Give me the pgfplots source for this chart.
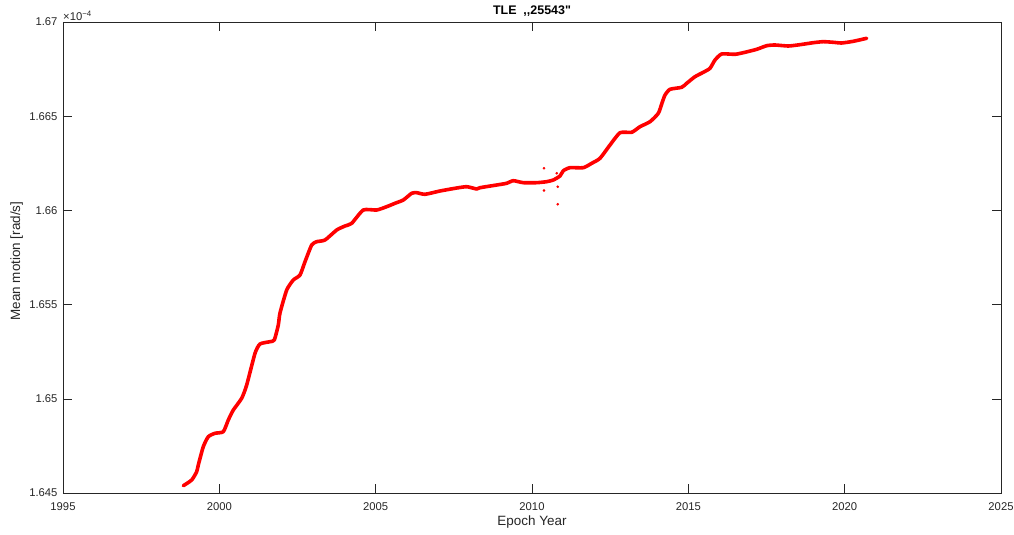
\documentclass[border=0pt]{standalone}
\usepackage{fontspec}
\setmainfont{Liberation Sans}
\usepackage{pgfplots}
\pgfplotsset{compat=1.18}
\definecolor{axgray}{RGB}{38,38,38}
\begin{document}
\begin{tikzpicture}
\useasboundingbox (-63bp,-42bp) rectangle (951bp,493bp);
\begin{axis}[
  at={(0,0)}, anchor=south west, scale only axis,
  width=938bp, height=471bp,
  xmin=1995, xmax=2025, ymin=1.645, ymax=1.67,
  xtick={1995,2000,2005,2010,2015,2020,2025},
  ytick={1.645,1.65,1.655,1.66,1.665,1.67},
  yticklabels={1.645,1.65,1.655,1.66,1.665,1.67},
  tick align=inside, major tick length=9.4bp,
  axis line style={axgray, line width=0.6bp},
  every tick/.style={axgray, line width=0.6bp},
  tick label style={font=\fontsize{11.3}{13}\selectfont, text=axgray},
  /pgf/number format/assume math mode=true,
  /pgf/number format/1000 sep={},
  xticklabel style={yshift=-6bp},
  yticklabel style={xshift=-2bp},
  xlabel={Epoch Year}, ylabel={Mean motion [rad/s]},
  every axis x label/.style={at={(axis description cs:0.5,-0.0616)}, anchor=center, font=\fontsize{13.5}{15}\selectfont, text=axgray},
  every axis y label/.style={at={(axis description cs:-0.0493,0.4925)}, rotate=90, anchor=center, font=\fontsize{13.5}{15}\selectfont, text=axgray},
  title={TLE\ \ ,{},25543\textquotedbl},
  every axis title/.style={at={(axis description cs:0.5,1.0234)}, anchor=center, font=\bfseries\fontsize{12.5}{14}\selectfont},
  clip=false,
]
\addplot[red, line width=3.6bp, line join=round, line cap=round, smooth, tension=0.35] coordinates {
(1998.848,1.645388) (1999.116,1.645690) (1999.276,1.646130) (1999.327,1.646486)
(1999.487,1.647458) (1999.647,1.647988) (1999.861,1.648169) (2000.127,1.648254)
(2000.287,1.648875) (2000.447,1.649406) (2000.715,1.650027) (2000.875,1.650733)
(2001.141,1.652415) (2001.301,1.652909) (2001.620,1.653031) (2001.758,1.653121)
(2001.886,1.653917) (2001.940,1.654554) (2002.155,1.655775) (2002.366,1.656306)
(2002.580,1.656571) (2002.740,1.657277) (2002.954,1.658164) (2003.114,1.658339)
(2003.380,1.658429) (2003.754,1.658960) (2004.019,1.659172) (2004.234,1.659315)
(2004.605,1.660021) (2005.033,1.660021) (2005.353,1.660197) (2005.618,1.660377)
(2005.884,1.660552) (2006.152,1.660908) (2006.312,1.660940) (2006.578,1.660855)
(2007.058,1.661030) (2007.537,1.661173) (2007.911,1.661258) (2008.231,1.661136)
(2008.337,1.661205) (2008.871,1.661348) (2009.191,1.661439) (2009.402,1.661577)
(2009.722,1.661471) (2010.150,1.661471) (2010.470,1.661524) (2010.681,1.661614)
(2010.896,1.661826) (2011.001,1.662107) (2011.215,1.662267) (2011.641,1.662267)
(2011.910,1.662500) (2012.175,1.662766) (2012.495,1.663472) (2012.815,1.664124)
(2013.189,1.664146) (2013.454,1.664443) (2013.774,1.664708) (2014.040,1.665154)
(2014.158,1.665700) (2014.254,1.666125) (2014.414,1.666428) (2014.788,1.666534)
(2014.948,1.666747) (2015.213,1.667097) (2015.479,1.667330) (2015.693,1.667543)
(2015.853,1.667983) (2016.067,1.668302) (2016.493,1.668286) (2016.813,1.668392)
(2017.187,1.668551) (2017.507,1.668742) (2017.772,1.668779) (2018.197,1.668726)
(2018.571,1.668796) (2018.997,1.668902) (2019.317,1.668955) (2019.636,1.668923)
(2019.905,1.668886) (2020.276,1.668976) (2020.705,1.669135)
};
\addplot[only marks, red, mark=*, mark size=1.1bp] coordinates {
(2010.384,1.662235) (2010.384,1.661057) (2010.822,1.661258) (2010.822,1.660324)
(2010.790,1.661970)
};
\node[anchor=south west, inner sep=0pt, text=axgray, font=\fontsize{11.3}{13}\selectfont, yshift=1.5bp] at (rel axis cs:0,1) {×10\textsuperscript{−4}};
\end{axis}
\end{tikzpicture}
\end{document}
